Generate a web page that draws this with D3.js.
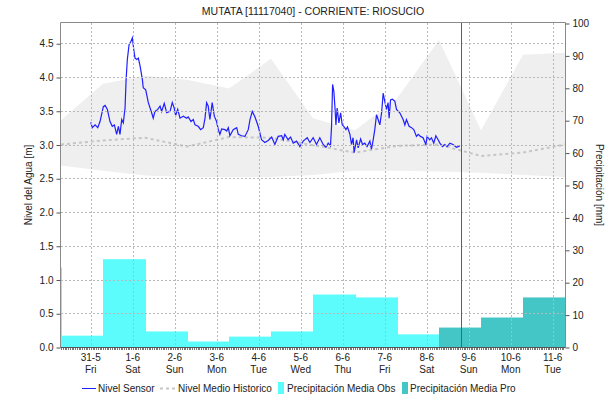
<!DOCTYPE html>
<html>
<head>
<meta charset="utf-8">
<script src="https://cdn.jsdelivr.net/npm/d3@7"></script>
<style>
  body { margin: 0; background: #fff; }
  svg { display: block; font-family: "Liberation Sans", Arial, sans-serif; }
</style>
</head>
<body>
<div id="chart"></div>
<script>
// historic band + mean, one point per day at 07:00 (30-5 .. 11-6)
const histDays = ["2019-05-30", "2019-05-31", "2019-06-01", "2019-06-02", "2019-06-03", "2019-06-04",
  "2019-06-05", "2019-06-06", "2019-06-07", "2019-06-08", "2019-06-09", "2019-06-10", "2019-06-11"];
const histUpper = [3.36, 3.90, 4.02, 3.96, 3.83, 4.27, 3.39, 3.21, 3.68, 4.55, 3.21, 4.33, 4.36];
const histLower = [2.69, 2.61, 2.54, 2.52, 2.52, 2.52, 2.55, 2.61, 2.61, 2.60, 2.58, 2.55, 2.52];
const histMean = [3.00, 3.06, 3.10, 2.97, 3.11, 3.10, 2.99, 2.88, 2.98, 3.00, 2.83, 2.88, 3.00];

// precipitation, daily totals 07:00 -> 07:00
const obsDays = ["2019-05-29", "2019-05-30", "2019-05-31", "2019-06-01", "2019-06-02",
  "2019-06-03", "2019-06-04", "2019-06-05", "2019-06-06", "2019-06-07"];
const precipObs = [24.5, 3.5, 27.1, 4.8, 1.7, 3.2, 4.8, 16.2, 15.3, 3.9];
const proDays = ["2019-06-08", "2019-06-09", "2019-06-10"];
const precipPro = [6.0, 9.1, 15.3];

// sensor: hours after 31-5 00:00, level in m
const sensorHours = [0, 0.9, 2.5, 4.0, 5.3, 7.2, 8.2, 9.5, 11.0, 12.3, 13.5, 14.8, 15.8, 16.7, 17.7, 18.6,
  19.6, 20.2, 20.9, 21.9, 23.0, 23.8, 24.6, 25.3, 26.3, 27.2, 28.2, 29.5, 30.0, 31.4, 32.9, 34.8,
  35.7, 36.7, 38.3, 39.6, 40.5, 42.0, 43.4, 45.3, 46.6, 47.7, 48.5, 49.7, 51.0, 52.9, 54.8, 55.7,
  57.3, 58.6, 59.6, 61.4, 62.8, 64.3, 65.3, 66.2, 67.1, 68.1, 69.4, 70.6, 71.9, 72.9, 73.8, 74.8,
  76.7, 77.7, 78.6, 79.5, 81.4, 83.4, 84.3, 86.2, 88.1, 90.0, 91.0, 92.3, 93.8, 95.7, 97.6, 99.5,
  101.4, 103.4, 105.2, 107.1, 109.1, 110.0, 110.9, 112.8, 114.2, 115.7, 117.6, 119.5, 121.4, 123.7,
  125.2, 127.1, 129.0, 130.9, 132.8, 134.4, 135.7, 137.0, 137.6, 138.2, 138.9, 139.5, 140.1, 140.8,
  141.8, 142.8, 143.7, 144.6, 145.8, 146.7, 148.1, 149.0, 149.9, 150.5, 151.9, 152.8, 154.2, 155.3,
  156.6, 157.9, 159.5, 160.4, 161.4, 162.3, 163.3, 164.2, 165.2, 166.2, 167.1, 168.0, 169.0, 169.9,
  170.5, 171.3, 172.4, 173.8, 174.7, 176.6, 178.5, 179.5, 180.4, 181.9, 183.3, 184.6, 186.1, 187.1,
  188.4, 189.9, 191.5, 192.2, 193.7, 194.7, 196.0, 197.2, 198.5, 199.5, 201.0, 202.3, 203.6, 205.2,
  207.0, 209.0, 210.9];
const sensorLevel = [3.33, 3.25, 3.29, 3.25, 3.34, 3.56, 3.58, 3.52, 3.34, 3.27, 3.29, 3.15, 3.27, 3.15, 3.37, 3.32,
  3.54, 3.96, 4.26, 4.48, 4.53, 4.58, 4.40, 4.28, 4.26, 4.28, 4.16, 3.96, 3.84, 3.81, 3.62, 3.47,
  3.39, 3.49, 3.52, 3.57, 3.49, 3.61, 3.47, 3.49, 3.62, 3.54, 3.43, 3.52, 3.39, 3.42, 3.39, 3.41,
  3.34, 3.37, 3.29, 3.27, 3.22, 3.25, 3.39, 3.62, 3.57, 3.37, 3.62, 3.42, 3.34, 3.22, 3.15, 3.23,
  3.22, 3.20, 3.25, 3.13, 3.22, 3.25, 3.15, 3.13, 3.12, 3.22, 3.37, 3.49, 3.41, 3.27, 3.07, 3.03,
  3.06, 3.11, 3.00, 3.12, 3.13, 3.07, 3.15, 3.07, 3.11, 3.02, 3.05, 2.97, 3.05, 3.10,
  3.03, 3.10, 3.00, 3.10, 3.00, 2.96, 3.02, 2.98, 3.27, 3.89, 3.79, 3.57, 3.29, 3.54,
  3.32, 3.47, 3.29, 3.27, 3.22, 3.26, 3.15, 3.00, 3.10, 2.88, 3.07, 2.95, 3.08, 3.00,
  3.02, 2.97, 3.05, 2.93, 3.07, 3.22, 3.44, 3.37, 3.29, 3.47, 3.76, 3.64, 3.52, 3.62,
  3.39, 3.66, 3.67, 3.64, 3.52, 3.47, 3.37, 3.29, 3.37, 3.27, 3.25, 3.22, 3.12, 3.15,
  3.12, 3.10, 3.00, 3.12, 3.07, 3.10, 3.02, 3.13, 3.07, 3.02, 2.97, 3.00, 2.97, 3.02,
  3.00, 2.96, 2.98];

const nowTime = "2019-06-08T19:30:00Z";
const leftTicks = [0, 0.5, 1, 1.5, 2, 2.5, 3, 3.5, 4, 4.5];
const rightTicks = [0, 10, 20, 30, 40, 50, 60, 70, 80, 90, 100];

const width = 615, height = 401;
const pl = 61, pr = 565, pt = 23, pb = 347;
const day = 864e5;
const at7 = (s) => new Date(s + "T07:00:00Z");
const sensorStart = Date.UTC(2019, 4, 31, 0);

const svg = d3.select("#chart").append("svg").attr("width", width).attr("height", height);

const x = d3.scaleUtc()
  .domain([Date.UTC(2019, 4, 30, 7), Date.UTC(2019, 5, 11, 7)])
  .range([pl, pr]);
const yL = d3.scaleLinear().domain([0, 4.8]).range([pb, pt]);
const yR = d3.scaleLinear().domain([0, 100]).range([pb, pt]);

svg.append("clipPath").attr("id", "clip")
  .append("rect").attr("x", pl).attr("y", pt).attr("width", pr - pl).attr("height", pb - pt);
const plot = svg.append("g").attr("clip-path", "url(#clip)");

// historic band
const hist = histDays.map((d, i) => ({ t: at7(d), hi: histUpper[i], lo: histLower[i], m: histMean[i] }));
plot.append("path").datum(hist)
  .attr("fill", "#efefef")
  .attr("d", d3.area().x(d => x(d.t)).y0(d => yL(d.lo)).y1(d => yL(d.hi)));

// grid
const gridDays = d3.utcDay.range(new Date(Date.UTC(2019, 4, 31)), new Date(Date.UTC(2019, 5, 12)));
svg.append("g").selectAll("line").data(gridDays).join("line")
  .attr("x1", d => Math.round(x(d)) + 0.5).attr("x2", d => Math.round(x(d)) + 0.5)
  .attr("y1", pt).attr("y2", pb)
  .attr("stroke", "#b8b8b8").attr("stroke-dasharray", "2,2");
svg.append("g").selectAll("line").data(leftTicks.slice(1)).join("line")
  .attr("x1", pl).attr("x2", pr)
  .attr("y1", d => Math.round(yL(d)) + 0.5).attr("y2", d => Math.round(yL(d)) + 0.5)
  .attr("stroke", "#b8b8b8").attr("stroke-dasharray", "2,2");

// precipitation bars
const bars = obsDays.map((d, i) => ({ t: at7(d), v: precipObs[i], c: "#5cfcfc" }))
  .concat(proDays.map((d, i) => ({ t: at7(d), v: precipPro[i], c: "#45c6c6" })));
plot.append("g").selectAll("rect").data(bars).join("rect")
  .attr("x", d => x(d.t))
  .attr("width", d => x(new Date(+d.t + day)) - x(d.t) + 1)
  .attr("y", d => yR(d.v))
  .attr("height", d => yR(0) - yR(d.v))
  .attr("fill", d => d.c);

// historic mean
plot.append("path").datum(hist)
  .attr("fill", "none").attr("stroke", "#c6c6c6").attr("stroke-width", 2)
  .attr("stroke-dasharray", "3,3")
  .attr("d", d3.line().x(d => x(d.t)).y(d => yL(d.m)));

// sensor
const sensor = sensorHours.map((h, i) => ({ t: new Date(sensorStart + h * 36e5), v: sensorLevel[i] }));
plot.append("path").datum(sensor)
  .attr("fill", "none").attr("stroke", "#1f1fff").attr("stroke-width", 1.2)
  .attr("d", d3.line().x(d => x(d.t)).y(d => yL(d.v)));

// frame
svg.append("path")
  .attr("d", `M${pl - 0.5},${pb + 0.5}V${pt - 0.5}H${pr + 0.5}V${pb + 0.5}`)
  .attr("fill", "none").attr("stroke", "#8a8a8a");
svg.append("line").attr("x1", pl - 0.5).attr("x2", pr + 0.5)
  .attr("y1", pb + 0.5).attr("y2", pb + 0.5).attr("stroke", "#555");

// now line (red)
const nx = Math.round(x(new Date(nowTime))) + 0.5;
svg.append("rect").attr("x", nx - 0.5).attr("y", pt).attr("width", 1).attr("height", pb - pt + 1)
  .style("fill", "rgb(220, 40, 40)");

// hourly minor ticks on the bottom axis
const hours = d3.utcHour.range(x.domain()[0], x.domain()[1]);
svg.append("g").selectAll("line").data(hours).join("line")
  .attr("x1", d => Math.round(x(d)) + 0.5).attr("x2", d => Math.round(x(d)) + 0.5)
  .attr("y1", pb + 1).attr("y2", pb + 3).attr("stroke", "#777");

// left axis
const gL = svg.append("g").attr("transform", `translate(${pl - 0.5},0.5)`)
  .call(d3.axisLeft(yL).tickValues(leftTicks).tickFormat(d3.format(".1f")).tickSize(4).tickPadding(3));
gL.select(".domain").remove();
gL.selectAll(".tick line").attr("stroke", "#555");
gL.selectAll("text").attr("font-size", 10).attr("fill", "#222").attr("font-family", null);

// right axis
const gR = svg.append("g").attr("transform", `translate(${pr + 0.5},0.5)`)
  .call(d3.axisRight(yR).tickValues(rightTicks).tickSize(4).tickPadding(3));
gR.select(".domain").remove();
gR.selectAll(".tick line").attr("stroke", "#555");
gR.selectAll("text").attr("font-size", 10).attr("fill", "#222").attr("font-family", null);

// x labels (date + weekday)
const fmtD = d3.utcFormat("%-d-%-m"), fmtW = d3.utcFormat("%a");
const xl = svg.append("g").selectAll("g").data(gridDays).join("g")
  .attr("transform", d => `translate(${x(d)},0)`);
xl.append("text").attr("y", 361).attr("text-anchor", "middle").attr("font-size", 10).attr("fill", "#222")
  .text(d => fmtD(d));
xl.append("text").attr("y", 373).attr("text-anchor", "middle").attr("font-size", 10).attr("fill", "#222")
  .text(d => fmtW(d));

// title and axis titles
svg.append("text").attr("x", (pl + pr) / 2).attr("y", 15).attr("text-anchor", "middle")
  .attr("font-size", 10.5).attr("fill", "#222").text("MUTATA [11117040] - CORRIENTE: RIOSUCIO");
svg.append("text").attr("transform", `translate(32,${(pt + pb) / 2}) rotate(-90)`)
  .attr("text-anchor", "middle").attr("font-size", 10).attr("fill", "#222").text("Nivel del Agua [m]");
svg.append("text").attr("transform", `translate(596,${(pt + pb) / 2}) rotate(90)`)
  .attr("text-anchor", "middle").attr("font-size", 10).attr("fill", "#222").text("Precipitación [mm]");

// legend
const lg = svg.append("g").attr("font-size", 10).attr("fill", "#222");
lg.append("line").attr("x1", 82).attr("x2", 96).attr("y1", 388.5).attr("y2", 388.5).attr("stroke", "#1f1fff");
lg.append("text").attr("x", 98).attr("y", 392).text("Nivel Sensor");
lg.append("line").attr("x1", 160).attr("x2", 175).attr("y1", 388.5).attr("y2", 388.5)
  .attr("stroke", "#c6c6c6").attr("stroke-width", 2).attr("stroke-dasharray", "3,3");
lg.append("text").attr("x", 178).attr("y", 392).text("Nivel Medio Historico");
lg.append("rect").attr("x", 278).attr("y", 382).attr("width", 6).attr("height", 12).attr("fill", "#5cfcfc");
lg.append("text").attr("x", 287).attr("y", 392).text("Precipitación Media Obs");
lg.append("rect").attr("x", 402).attr("y", 382).attr("width", 6).attr("height", 12).attr("fill", "#45c6c6");
lg.append("text").attr("x", 410).attr("y", 392).text("Precipitación Media Pro");
</script>
</body>
</html>
